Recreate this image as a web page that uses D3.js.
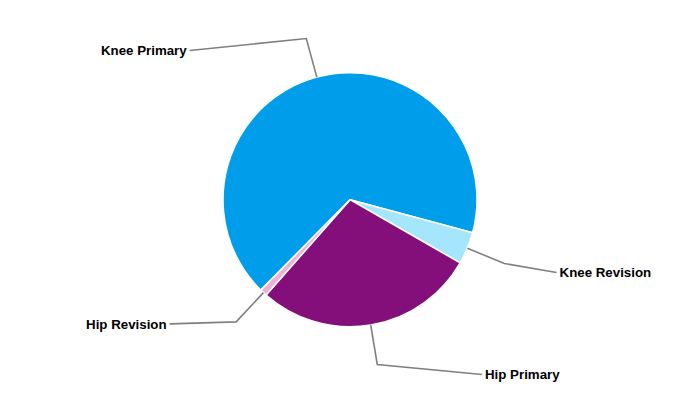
<!DOCTYPE html>
<html><head><meta charset="utf-8">
<script src="https://cdn.jsdelivr.net/npm/d3@7"></script>
<style>body{margin:0;background:#fff}svg{display:block}</style>
</head><body>
<script>
const categories = ["Knee Primary", "Knee Revision", "Hip Primary", "Hip Revision"];
const values = [66.8, 4.1, 28.2, 0.9];
const colors = ["#009EEA", "#A6E6FD", "#840F7A", "#F0B0DC"];
// layout-only nudges for label vertical placement (px)
const labelNudge = [12, 9, 10, 2];

const W = 700, H = 400, cx = 350, cy = 199.7, r = 127;
const startDeg = -135.4;
const svg = d3.select("body").append("svg").attr("width", W).attr("height", H);
const g = svg.append("g").attr("transform", `translate(${cx},${cy})`);

const pie = d3.pie().sort(null).value(d => d.v)
  .startAngle(startDeg * Math.PI / 180).endAngle((startDeg + 360) * Math.PI / 180);
const data = categories.map((c, i) => ({ c, v: values[i], col: colors[i], nudge: labelNudge[i] }));
const arcs = pie(data);
const arc = d3.arc().innerRadius(0).outerRadius(r);

g.selectAll("path.slice").data(arcs).join("path").attr("class", "slice")
  .attr("d", arc).attr("fill", d => d.data.col)
  .attr("stroke", "#fff").attr("stroke-width", 1.5).attr("stroke-linejoin", "round");

const R_label = 219;
arcs.forEach(d => {
  const a = (d.startAngle + d.endAngle) / 2;
  const sx = Math.sin(a), sy = -Math.cos(a);
  const p0 = [sx * r, sy * r];
  const p1 = [sx * (r + 40), sy * (r + 40)];
  const ly = p1[1] + d.data.nudge;
  const right = sx >= 0;
  const lx = (right ? 1 : -1) * Math.sqrt(R_label * R_label - ly * ly);
  g.append("path")
    .attr("d", d3.line()([p0, p1, [lx, ly]]))
    .attr("fill", "none").attr("stroke", "#808080").attr("stroke-width", 1.6);
  g.append("text")
    .attr("x", lx + (right ? 3 : -3)).attr("y", ly)
    .attr("dy", "0.35em")
    .attr("text-anchor", right ? "start" : "end")
    .attr("font-family", "Liberation Sans, Arial, sans-serif")
    .attr("font-weight", "bold").attr("font-size", 13.3).attr("fill", "#000")
    .text(d.data.c);
});
</script>
</body></html>
